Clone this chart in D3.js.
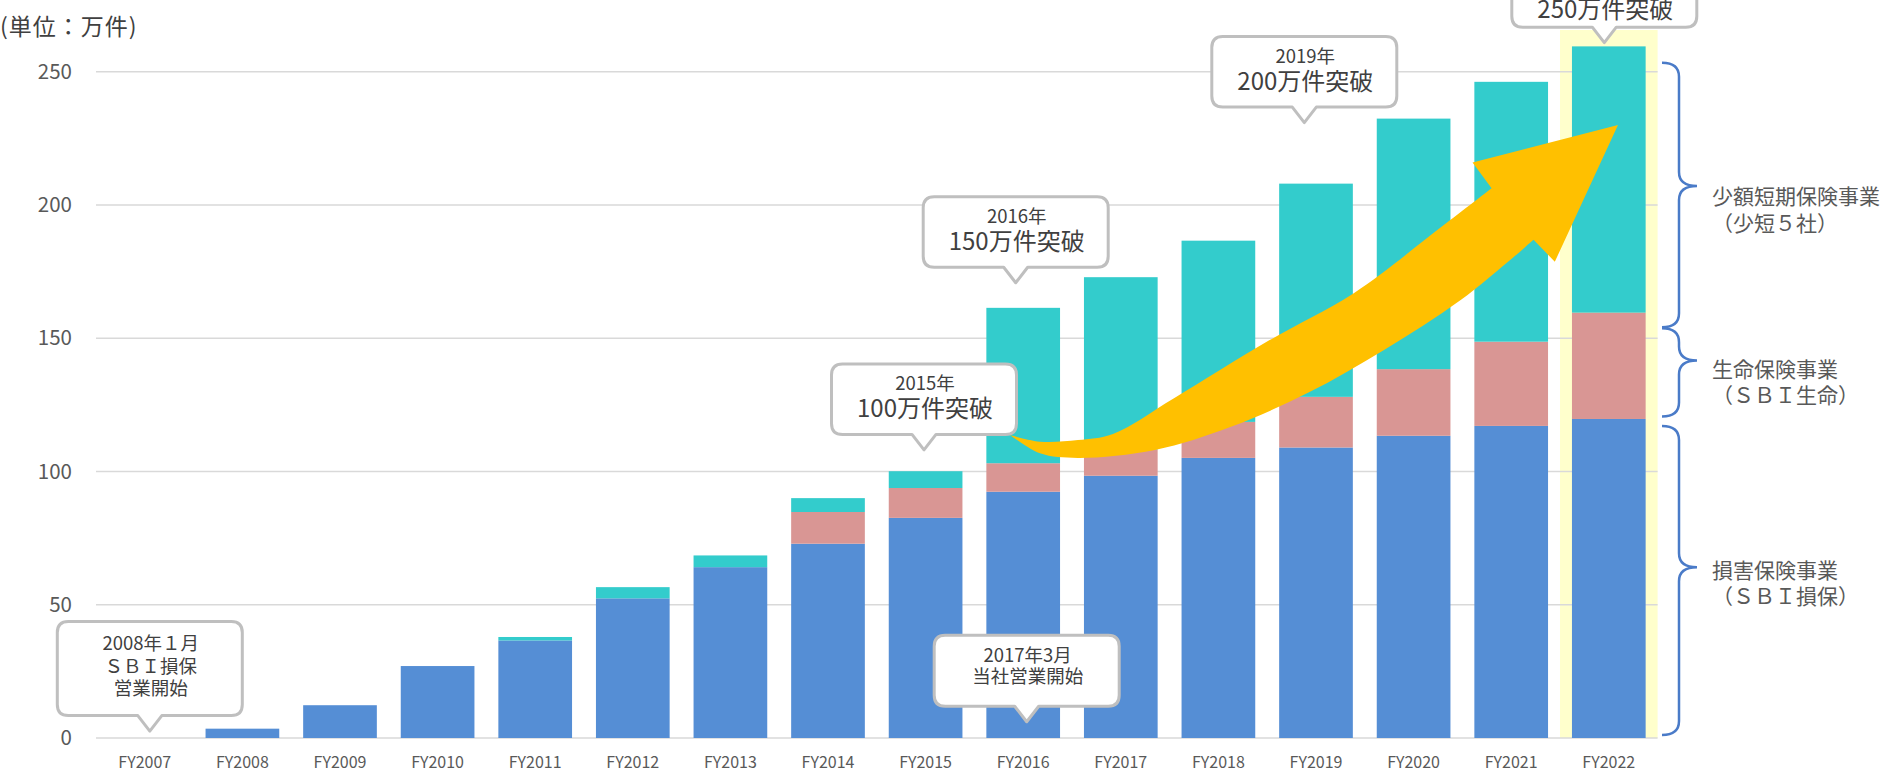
<!DOCTYPE html>
<html><head><meta charset="utf-8">
<script src="https://cdn.jsdelivr.net/npm/d3@7"></script>
<style>html,body{margin:0;padding:0;background:#fff;overflow:hidden}</style>
</head><body>
<svg id="c" width="1884" height="777"></svg>
<script>
// ---- data ----
const categories = ['FY2007','FY2008','FY2009','FY2010','FY2011','FY2012','FY2013','FY2014','FY2015','FY2016','FY2017','FY2018','FY2019','FY2020','FY2021','FY2022'];
const sonpo  = [0, 3.5, 12.3, 27.0, 36.6, 52.4, 64.1, 72.9, 82.6, 92.4, 98.4, 105.1, 109.0, 113.4, 117.1, 119.7]; // 損害保険事業
const seimei = [0, 0, 0, 0, 0, 0, 0, 11.9, 11.2, 10.7, 9.9, 13.5, 19.0, 25.0, 31.6, 39.9];                       // 生命保険事業
const shotan = [0, 0, 0, 0, 1.3, 4.2, 4.4, 5.2, 6.3, 58.3, 64.6, 68.0, 80.0, 94.0, 97.5, 99.9];                  // 少額短期保険事業
const yTicks = [0, 50, 100, 150, 200, 250];
const unitLabel = '(単位：万件)';
const highlightCat = 'FY2022';

// callouts: category, tip value, text lines
const calloutCats  = ['FY2007', 'FY2016', 'FY2015', 'FY2016', 'FY2019', 'FY2022'];
const calloutTips  = [2.6, 6.1, 108.1, 170.8, 230.9, 260.9];
const calloutTexts = [
  ['2008年１月', 'ＳＢＩ損保', '営業開始'],
  ['2017年3月', '当社営業開始'],
  ['2015年', '100万件突破'],
  ['2016年', '150万件突破'],
  ['2019年', '200万件突破'],
  ['250万件突破']
];
// braces (segment ranges in value units) and labels
const braceRanges = [[1.1, 117.1, 64.1], [120.6, 153.7, 141.6], [154.1, 253.4, 207.1]];
const braceLabels = [['損害保険事業', '（ＳＢＩ損保）'], ['生命保険事業', '（ＳＢＩ生命）'], ['少額短期保険事業', '（少短５社）']];
const braceLabelVals = [[62.8, 53.0], [138.1, 128.4], [203.1, 192.9]];

// growth arrow outline in (category-step units, value)
const arrowTop = [[9.365,113.7],[9.672,111.2],[10.061,111.8],[10.42,114.1],[11.045,127.5],[12.025,149.3],[12.887,166.9],[13.789,191.9],[14.299,206.3]];
const arrowHead = [[14.104,215.9],[15.594,230.0],[14.947,178.7],[14.729,186.9]];
const arrowBottom = [[14.729,186.9],[13.986,164.4],[13.197,145.6],[12.418,129.5],[11.629,116.8],[10.85,108.1],[10.061,105.1],[9.672,106.8],[9.365,113.7]];

// ---- chart ----
const svg = d3.select('#c');
const FONT = '"Noto Sans CJK JP","Noto Sans",sans-serif';
const x = d3.scaleBand().domain(categories).range([96, 1657.6]).paddingInner(0.245).paddingOuter(0.1225);
const y = d3.scaleLinear().domain([0, 250]).range([738, 71.7]);
const X = u => x.range()[0] + x.step() * u;

const rows = categories.map((c, i) => ({cat: c, sonpo: sonpo[i], seimei: seimei[i], shotan: shotan[i]}));
const keys = ['sonpo', 'seimei', 'shotan'];
const colors = {sonpo: '#558ED5', seimei: '#D99694', shotan: '#33CCCC'};
const series = d3.stack().keys(keys)(rows);

// highlight band
svg.append('rect')
  .attr('x', x(highlightCat) - x.step() * x.paddingInner() / 2)
  .attr('width', x.step())
  .attr('y', 30).attr('height', y(0) - 30)
  .attr('fill', '#FFFFCC');

// gridlines
svg.append('g').selectAll('line').data(yTicks).join('line')
  .attr('x1', x.range()[0]).attr('x2', x.range()[1])
  .attr('y1', d => y(d)).attr('y2', d => y(d))
  .attr('stroke', '#D9D9D9').attr('stroke-width', 1.6);

// y tick labels
svg.append('g').selectAll('text').data(yTicks).join('text')
  .attr('x', 72).attr('y', d => y(d)).attr('dy', '0.35em')
  .attr('text-anchor', 'end').attr('font-family', FONT).attr('font-size', 20.5).attr('fill', '#595959')
  .text(d => d);

// x labels
svg.append('g').selectAll('text').data(categories).join('text')
  .attr('x', d => x(d) + x.bandwidth() / 2).attr('y', 762).attr('dy', '0.35em')
  .attr('text-anchor', 'middle').attr('font-family', FONT).attr('font-size', 16).attr('fill', '#595959')
  .text(d => d);

// unit
svg.append('text').attr('x', 0).attr('y', 27).attr('dy', '0.35em')
  .attr('font-family', FONT).attr('font-size', 23).attr('letter-spacing', 1).attr('fill', '#404040').text(unitLabel);

// bars
svg.append('g').selectAll('g').data(series).join('g')
  .attr('fill', d => colors[d.key])
  .selectAll('rect').data(d => d).join('rect')
  .attr('x', d => x(d.data.cat)).attr('width', x.bandwidth())
  .attr('y', d => y(d[1])).attr('height', d => Math.max(0, y(d[0]) - y(d[1])));

// arrow
const line = d3.line().x(d => X(d[0])).y(d => y(d[1])).curve(d3.curveCatmullRom.alpha(0.5));
const topPath = line(arrowTop);
const botPath = line(arrowBottom).replace(/^M/, 'L');
const headPath = arrowHead.map(p => 'L' + X(p[0]) + ',' + y(p[1])).join('');
svg.append('path').attr('d', topPath + headPath + botPath + 'Z').attr('fill', '#FFC000');

// callouts
const calloutDx = [5, 3.5, -1.6, -7.5, -11.7, -4.5];
const calloutH = [94, 71, 70.5, 70.5, 70.5, 75];
const BW = 185, PH = 15.5, PW = 24, R = 11;
calloutCats.forEach((c, i) => {
  const tx = x(c) + x.bandwidth() / 2 + calloutDx[i];
  const ty = y(calloutTips[i]);
  const bottom = ty - PH, top = bottom - calloutH[i];
  const l = tx - BW / 2, r = tx + BW / 2;
  const d = `M${l + R},${top} H${r - R} Q${r},${top} ${r},${top + R} V${bottom - R} Q${r},${bottom} ${r - R},${bottom}` +
            ` H${tx + PW / 2} L${tx},${ty} L${tx - PW / 2},${bottom} H${l + R} Q${l},${bottom} ${l},${bottom - R} V${top + R} Q${l},${top} ${l + R},${top} Z`;
  svg.append('path').attr('d', d).attr('fill', '#fff').attr('stroke', '#BFBFBF').attr('stroke-width', 3).attr('stroke-linejoin', 'round');
  const lines = calloutTexts[i];
  let specs;
  if (lines.length === 3) specs = [[-72, 18.5], [-49, 18.5], [-27, 18.5]];
  else if (i === 1) specs = [[-51, 18.5], [-29.3, 18.5]];
  else if (lines.length === 2) specs = [[-51, 18.5], [-25.5, 24]];
  else specs = [[-18, 24]];
  lines.forEach((t, k) => {
    svg.append('text').attr('x', tx + 1).attr('y', bottom + specs[k][0]).attr('dy', '0.35em')
      .attr('text-anchor', 'middle').attr('font-family', FONT).attr('font-size', specs[k][1]).attr('fill', '#404040')
      .text(t);
  });
});

// braces
const bx0 = x.range()[1] + 4.4, bx1 = x.range()[1] + 21.4, bxt = x.range()[1] + 39.4, rr = 14;
braceRanges.forEach((b, i) => {
  const y1 = y(b[1]), y2 = y(b[0]), ym = y(b[2]);
  const d = `M${bx0},${y1} Q${bx1},${y1} ${bx1},${y1 + rr} V${ym - rr} Q${bx1},${ym} ${bxt},${ym}` +
            ` Q${bx1},${ym} ${bx1},${ym + rr} V${y2 - rr} Q${bx1},${y2} ${bx0},${y2}`;
  svg.append('path').attr('d', d).attr('fill', 'none').attr('stroke', '#4A7BC8').attr('stroke-width', 2.5);
  braceLabels[i].forEach((t, k) => {
    svg.append('text').attr('x', x.range()[1] + 54.4).attr('y', y(braceLabelVals[i][k])).attr('dy', '0.35em')
      .attr('font-family', FONT).attr('font-size', 21).attr('fill', '#595959').text(t);
  });
});
</script>
</body></html>
